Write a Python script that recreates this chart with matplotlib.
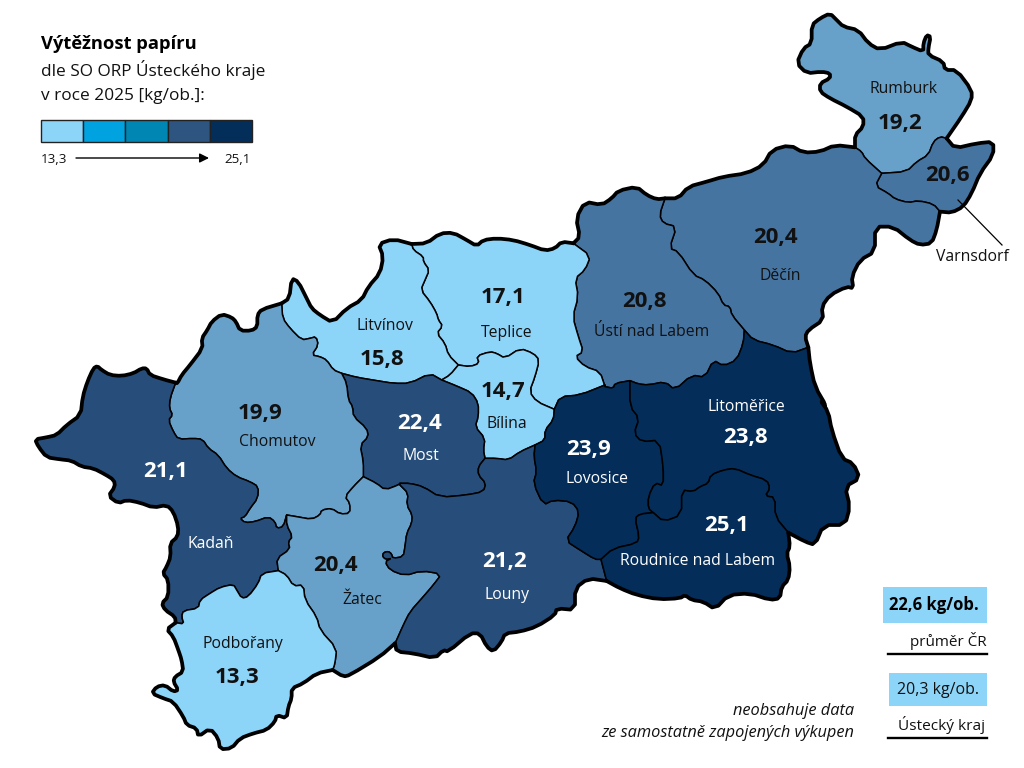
import matplotlib
matplotlib.use('Agg')
import matplotlib.pyplot as plt
from matplotlib.patches import Polygon, Rectangle

plt.rcParams['font.family'] = ['Open Sans', 'DejaVu Sans']

# Values
region_names = ['Rumburk', 'Varnsdorf', 'Děčín', 'Ústí nad Labem', 'Teplice', 'Litvínov', 'Bílina', 'Most',
                'Chomutov', 'Kadaň', 'Žatec', 'Podbořany', 'Louny', 'Lovosice', 'Litoměřice', 'Roudnice nad Labem']
region_values = ['19,2', '20,6', '20,4', '20,8', '17,1', '15,8', '14,7', '22,4',
                 '19,9', '21,1', '20,4', '13,3', '21,2', '23,9', '23,8', '25,1']

LIGHT = '#8CD4F8'
MID = '#67A1C9'
STEEL = '#4674A1'
NAVY = '#274E7A'
DARK = '#042D59'
region_colors = [MID, STEEL, STEEL, STEEL, LIGHT, LIGHT, LIGHT, NAVY,
                 MID, NAVY, MID, LIGHT, NAVY, DARK, DARK, DARK]

scale_colors = ['#8CD4F8', '#00A3E0', '#0086B2', '#2D5580', '#042E5A']
scale_min = '13,3'
scale_max = '25,1'

# label anchors in picture pixels (name x, name y, value x, value y)
label_pos = [(904, 89, 900, 123), (972, 257, 947, 176), (780, 276, 775, 238), (652, 332, 644, 302),
             (507, 333, 503, 298), (385, 326, 382, 360), (507, 424, 503, 392), (421, 456, 420, 424),
             (277, 442, 260, 413), (211, 544, 166, 472), (362, 600, 335, 565), (243, 644, 237, 677),
             (507, 595, 505, 562), (597, 479, 589, 449), (746, 407, 745, 438), (698, 561, 727, 526)]


# Boundaries were traced on crops of the picture, so each crop gets its own offset
def crop2(pts):
    return [(10 + x / 3, 340 + y / 3) for x, y in pts]

def crop3(pts):
    return [(270 + x / 3, 220 + y / 3) for x, y in pts]

def crop4(pts):
    return [(560 + x / 3, 130 + y / 3) for x, y in pts]

def crop5(pts):
    return [(780 + x / 3, y / 3) for x, y in pts]

def crop6(pts):
    return [(380 + x / 3, 380 + y / 3) for x, y in pts]

def crop8(pts):
    return [(170 + x / 3, 280 + y / 3) for x, y in pts]

def smooth(pts):
    # one pass of corner cutting, end points stay
    out = [pts[0]]
    for a, b in zip(pts[:-1], pts[1:]):
        out.append((a[0] * 0.75 + b[0] * 0.25, a[1] * 0.75 + b[1] * 0.25))
        out.append((a[0] * 0.25 + b[0] * 0.75, a[1] * 0.25 + b[1] * 0.75))
    out.append(pts[-1])
    return out


kad_out = crop2([(497,128),(460,118),(420,105),(410,85),(395,85),(370,100),(335,108),(300,105),(275,90),(262,78),(250,85),(232,125),(218,170),(212,225),(170,255),(140,285),(110,292),(75,298),(85,320),(110,352),(150,358),(185,362),(215,380),(250,385),(285,403),(312,420),(315,440),(295,468),(325,490),(350,480),(390,488),(430,503),(470,495),(490,515),(505,560),(503,590),(480,610),(482,650),(470,680),(458,700),(475,720),(475,770),(455,790),(465,810),(495,830),(497,848)])
kad_chom = crop2([(497,128),(480,175),(478,205),(488,225),(475,240),(490,275),(505,298),(550,295),(578,298),(595,325),(625,345),(650,385),(680,410),(720,425),(745,440),(743,475),(720,505),(705,530),(690,535),(705,548),(735,545),(775,530),(795,545),(800,565),(820,560),(830,525)])
kad_zat = crop2([(805,692),(800,655),(840,628),(835,605),(848,590),(830,555),(830,525)])
kad_pod = crop2([(805,692),(755,700),(745,730),(715,770),(695,775),(680,750),(670,733),(630,742),(600,760),(570,780),(565,805),(520,812),(515,830),(522,852),(497,848)])
pod_out = crop2([(497,848),(470,868),(490,890),(505,930),(515,960),(520,995),(495,1010),(490,1025),(505,1050),(490,1055),(465,1035),(440,1040),(425,1060),(460,1075),(490,1085),(520,1130),(530,1155),(560,1165),(565,1190),(600,1165),(625,1195),(630,1228),(665,1225),(690,1195),(730,1180),(770,1170),(795,1145),(800,1125),(830,1135),(835,1100),(845,1075),(845,1045),(880,1030),(920,1000),(968,990)])
pod_zat = crop2([(805,692),(830,705),(850,738),(880,735),(885,780),(920,830),(930,870),(980,925),(975,970),(968,990)])

chom_out = crop8([(335,70),(275,88),(262,105),(262,140),(245,152),(210,152),(198,125),(185,112),(155,102),(125,125),(112,150),(95,175),(98,205),(60,255),(35,285),(22,310),(17,308)])
chom_most = crop3([(215,460),(230,490),(235,540),(248,560),(250,590),(290,625),(295,650),(270,675),(280,725),(280,770)])
li_chom = crop3([(35,250),(38,295),(60,325),(95,360),(120,355),(138,350),(145,375),(125,405),(150,410),(170,420),(190,450),(215,460)])
chom_zat = crop3([(280,770),(250,800)]) + crop2([(1005,470),(1020,490),(1020,520),(990,522),(965,505),(935,510),(930,525),(905,538),(860,530),(830,525)])

zat_most = crop3([(280,770),(320,790),(345,810),(385,795),(390,790)])
zat_lou = crop6([(60,315),(85,340),(80,375),(97,405),(95,430),(80,460),(75,500),(70,530),(38,535),(35,522),(25,514),(10,518),(8,530),(18,538),(35,535),(15,545),(30,570),(75,587),(125,572),(185,582),(160,615),(130,650),(90,695),(70,735),(50,780),(45,790)])
zat_out = crop2([(968,990),(1000,1010),(1020,1005)]) + crop6([(0,830),(45,790)])

li_out = crop3([(35,250),(58,235),(65,175),(85,185),(110,235),(125,265),(150,285),(188,308),(230,265),(275,240),(295,200),(330,160),(340,110),(325,72),(370,57),(425,72)])
li_t = crop3([(425,72),(430,90),(460,110),(460,125),(478,150),(465,180),(452,210),(480,245),(500,280),(505,300),(518,318),(500,340),(525,370),(535,405),(565,435)])
li_b = crop3([(515,480),(540,465),(565,435)])
li_most = crop3([(215,460),(260,472),(320,482),(370,490),(420,490),(480,460),(515,480)])

t_out = crop3([(425,72),(470,70),(510,40),(550,38),(590,60),(620,78),(640,60),(680,55),(730,60),(780,75),(825,92),(855,85),(875,65),(912,70)])
t_u = crop4([(40,340),(92,378),(75,420),(45,445),(55,500),(38,560),(55,620),(70,665),(45,680),(75,710),(120,725),(135,770)])
t_lv = crop3([(853,568),(870,530),(930,525),(1005,495)])
t_b = crop3([(565,435),(600,440),(628,430),(620,408),(660,395),(680,400),(705,415),(750,385),(790,400),(808,420),(795,470),(778,515),(800,545),(853,568)])

b_lv = crop3([(853,568),(850,600),(825,630),(825,660),(795,675)])
b_lo = crop3([(795,675),(750,695),(715,720),(680,715),(645,715)])
b_most = crop3([(515,480),(560,498),(605,518),(625,550),(625,590),(615,620),(645,655),(640,690),(645,715)])
most_lo = crop3([(645,715),(625,740),(625,765),(648,790),(640,815),(590,825),(510,832),(460,800),(420,790),(390,790)])

lo_out = crop6([(45,790),(50,815),(100,820),(165,835),(190,810),(205,815),(270,760),(300,760),(320,800),(340,815),(365,785),(375,760),(420,755),(470,740),(525,705),(530,685),(585,690),(585,625),(625,595),(680,603)])
lo_lv = crop6([(465,198),(462,230),(470,275),(460,310),(490,375),(520,360),(575,365),(598,395),(585,440),(557,482),(600,510),(645,538),(663,538)])
lo_r = crop6([(663,538),(680,603)])

lv_u = crop4([(135,770),(160,775),(165,760),(210,752)])
lv_lt = crop6([(750,3),(750,80),(778,115),(762,160),(785,185),(838,180),(850,260),(850,318),(825,308),(805,350),(805,385),(820,398)])
lv_r = crop6([(663,538),(700,505),(770,490),(778,470),(765,415),(780,402),(820,398)])

lt_u = crop4([(210,752),(235,762),(265,765),(315,755),(345,780),(395,735),(435,742),(460,690),(490,708),(530,690),(550,640),(553,600)])
d_lt = crop4([(553,600),(580,630),(640,645),(695,670),(745,652)])
lt_out = crop4([(745,652),(750,700),(765,770),(800,830)]) + crop6([(1320,60),(1345,95),(1355,150),(1385,235),(1420,250),(1440,295),(1395,320),(1410,380),(1395,435),(1330,435),(1305,495),(1275,485),(1225,458)])
lt_r = crop6([(820,398),(850,425),(905,405),(905,330),(940,335),(960,320),(985,310),(992,285),(1030,270),(1065,265),(1110,285),(1160,300),(1170,325),(1155,348),(1185,352),(1185,410),(1225,458)])
r_out = crop6([(1225,458),(1230,500),(1220,520),(1230,560),(1225,600),(1205,620),(1200,655),(1170,660),(1110,640),(1045,645),(1005,688),(970,665),(935,660),(915,645),(900,655),(835,658),(770,645),(720,625),(680,603)])

u_out = crop4([(40,340),(60,320),(48,265),(75,215),(125,225),(155,205),(175,182),(230,170),(260,195),(290,208),(315,205)])
u_d = crop4([(315,205),(298,255),(310,280),(350,290),(328,355),(355,365),(400,435),(435,450),(475,490),(490,525),(510,530),(515,555),(553,600)])
d_top = crop4([(315,205),(355,205),(385,170),(440,155),(490,140),(560,130),(610,105),(635,60),(690,45),(730,68),(780,65),(825,45),(885,52)])
d_ru = crop4([(885,52),(905,65),(915,85),(965,130)])
d_v = crop4([(965,130),(945,168),(985,190),(1005,207),(1045,218),(1075,212),(1120,222),(1140,245)])
d_out = crop4([(745,652),(735,620),(745,600),(790,570),(785,530),(810,495),(860,470),(880,475),(875,440),(900,390),(945,365),(945,290),(1000,290),(1050,330),(1080,345),(1115,340),(1130,300),(1140,245)])

ru_out = crop5([(225,438),(225,405),(250,380),(250,350),(200,320),(150,295),(120,275),(120,250),(150,235),(150,220),(125,215),(80,220),(50,190),(70,145),(95,130),(95,75),(120,55),(150,40),(170,60),(190,80),(235,90),(265,130),(300,150),(365,125),(395,140),(430,155),(430,130),(440,105),(452,110),(445,145),(445,165),(490,185),(495,210),(530,210),(575,270),(575,300),(545,350),(500,415)])
ru_v = crop5([(305,520),(380,515),(410,485),(445,465),(460,425),(480,410),(500,415)])
v_out = crop5([(500,415),(525,445),(590,430),(640,425),(640,465),(600,520),(575,580),(550,620),(515,638),(482,635)])

outer_parts = [kad_out, pod_out, chom_out, zat_out, li_out, t_out, lo_out, lt_out, r_out, u_out, d_top, d_out, ru_out, v_out]


def ring(*parts):
    pts = []
    for part in parts:
        pts += smooth(part)
    return pts

def rev(part):
    return part[::-1]


region_rings = {
    'Rumburk': ring(ru_out, rev(ru_v), rev(d_ru)),
    'Varnsdorf': ring(ru_v, v_out, rev(d_v)),
    'Děčín': ring(d_top, d_ru, d_v, rev(d_out), rev(d_lt), rev(u_d)),
    'Ústí nad Labem': ring(u_out, u_d, rev(lt_u), rev(lv_u), rev(t_u)),
    'Teplice': ring(t_out, t_u, rev(t_lv), rev(t_b), rev(li_t)),
    'Litvínov': ring(li_out, li_t, rev(li_b), rev(li_most), rev(li_chom)),
    'Bílina': ring(t_b, b_lv, b_lo, rev(b_most), li_b),
    'Most': ring(li_most, b_most, most_lo, rev(zat_most), rev(chom_most)),
    'Chomutov': ring(chom_out, kad_chom, rev(chom_zat), rev(chom_most), rev(li_chom)),
    'Kadaň': ring(kad_out, rev(kad_pod), kad_zat, rev(kad_chom)),
    'Žatec': ring(chom_zat, rev(kad_zat), pod_zat, zat_out, rev(zat_lou), rev(zat_most)),
    'Podbořany': ring(pod_out, rev(pod_zat), kad_pod),
    'Louny': ring(zat_lou, lo_out, rev(lo_r), rev(lo_lv), b_lo, most_lo),
    'Lovosice': ring(lv_u, lv_lt, rev(lv_r), rev(lo_lv), rev(b_lv), t_lv),
    'Litoměřice': ring(lt_u, d_lt, lt_out, rev(lt_r), rev(lv_lt)),
    'Roudnice nad Labem': ring(lt_r, r_out, rev(lo_r), lv_r),
}

fig = plt.figure(figsize=(10.24, 7.68), dpi=100)
ax = fig.add_axes([0, 0, 1, 1])
ax.set_xlim(0, 1024)
ax.set_ylim(768, 0)
ax.axis('off')

for name, color in zip(region_names, region_colors):
    ax.add_patch(Polygon(region_rings[name], closed=True, facecolor=color, edgecolor='black', linewidth=1.1, joinstyle='round'))

for part in outer_parts:
    xs, ys = zip(*smooth(part))
    ax.plot(xs, ys, color='black', linewidth=2.7, solid_joinstyle='round', solid_capstyle='round')

# leader for Varnsdorf
ax.plot([958, 1002], [200, 245], color='black', linewidth=0.9)

for name, value, color, pos in zip(region_names, region_values, region_colors, label_pos):
    txt = 'white' if color in (NAVY, DARK) else '#111111'
    ax.text(pos[0], pos[1], name, color=txt, fontsize=11.3, ha='center', va='center')
    ax.text(pos[2], pos[3], value, color=txt, fontsize=16, fontweight='bold', ha='center', va='center')

# Title and scale
ax.text(41, 49, 'Výtěžnost papíru', fontsize=13.2, fontweight='bold', color='black')
ax.text(41, 76, 'dle SO ORP Ústeckého kraje', fontsize=12.4, color='#111111')
ax.text(41, 100, 'v roce 2025 [kg/ob.]:', fontsize=12.4, color='#111111')

cell_w = (252 - 41) / len(scale_colors)
for i, color in enumerate(scale_colors):
    ax.add_patch(Rectangle((41 + i * cell_w, 120), cell_w, 21.5, facecolor=color, edgecolor='#222222', linewidth=1.0))
ax.text(41, 163, scale_min, fontsize=9.6, color='#111111')
ax.text(251, 163, scale_max, fontsize=9.6, color='#111111', ha='right')
ax.annotate('', xy=(209, 158), xytext=(76, 158), arrowprops=dict(arrowstyle='-|>', color='black', linewidth=1.0, shrinkA=0, shrinkB=0, mutation_scale=14))

# Reference values
ax.add_patch(Rectangle((883, 587), 104, 36, facecolor=LIGHT, edgecolor='none'))
ax.text(934, 605, '22,6 kg/ob.', fontsize=12, fontweight='bold', color='black', ha='center', va='center')
ax.text(987, 646, 'průměr ČR', fontsize=11, color='#111111', ha='right')
ax.plot([888, 987], [654, 654], color='black', linewidth=1.7)

ax.add_patch(Rectangle((889, 673), 98, 33, facecolor=LIGHT, edgecolor='none'))
ax.text(938, 690, '20,3 kg/ob.', fontsize=11.5, color='#111111', ha='center', va='center')
ax.text(985, 730, 'Ústecký kraj', fontsize=11.1, color='#111111', ha='right')
ax.plot([888, 987], [738, 738], color='black', linewidth=1.7)

ax.text(854, 715, 'neobsahuje data', fontsize=11.8, fontstyle='italic', color='#111111', ha='right')
ax.text(854, 737, 'ze samostatně zapojených výkupen', fontsize=11.8, fontstyle='italic', color='#111111', ha='right')

fig.savefig('out.png', dpi=100)
